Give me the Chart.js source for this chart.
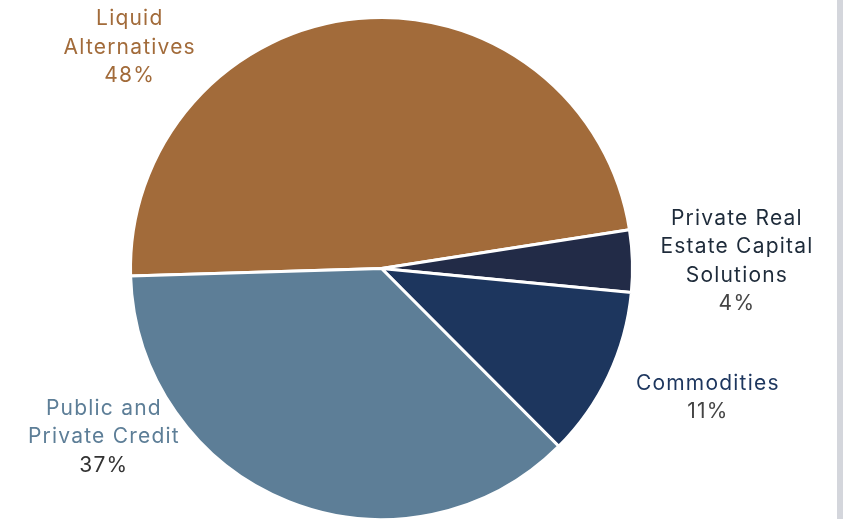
<!DOCTYPE html>
<html>
<head>
<meta charset="utf-8">
<script src="https://cdn.jsdelivr.net/npm/chart.js@4"></script>
<style>
  html, body { margin: 0; padding: 0; background: #fff; overflow: hidden; }
  #wrap { position: relative; width: 846px; height: 519px; overflow: hidden; }
  #box { position: absolute; left: 0; top: 0; width: 836px; height: 540px; }
  #rail { position: absolute; left: 837px; top: 0; width: 6px; height: 519px; background: #d4d6dc; }
</style>
</head>
<body>
<div id="wrap">
  <div id="box"><canvas id="myChart"></canvas></div>
  <div id="rail"></div>
</div>
<script>
var ctx = document.getElementById("myChart").getContext('2d');

const categories = [['Liquid', 'Alternatives'], ['Private Real', 'Estate Capital', 'Solutions'], ['Commodities'], ['Public and', 'Private Credit']];
const shares = [48, 4, 11, 37];
const sliceColors = ['#a26b3a', '#222b47', '#1d365e', '#5d7e97'];
const labelColors = ['#a26b3a', '#1e2b3a', '#1d365e', '#5d7e97'];
const pctColors = ['#a26b3a', '#444444', '#444444', '#333333'];

// label anchor (centre of first line), in units of radius from pie centre
const labelSpots = [[-1.003, -0.995], [1.416, -0.2], [1.3, 0.458], [-1.106, 0.558]];

const outsideLabels = {
  id: 'outsideLabels',
  afterDraw(chart) {
    const arc = chart.getDatasetMeta(0).data[0];
    const cx = arc.x, cy = arc.y, r = arc.outerRadius;
    const c = chart.ctx;
    c.save();
    c.font = '400 21px Inter, "Open Sans", sans-serif';
    c.letterSpacing = '1.2px';
    c.textAlign = 'center';
    c.textBaseline = 'middle';
    const lh = 28.5;
    categories.forEach((lines, i) => {
      const x = cx + labelSpots[i][0] * r;
      let y = cy + labelSpots[i][1] * r;
      c.fillStyle = labelColors[i];
      lines.forEach(t => { c.fillText(t, x, y); y += lh; });
      c.fillStyle = pctColors[i];
      c.fillText(shares[i] + '%', x, y);
    });
    c.restore();
  }
};

new Chart(ctx, {
  type: 'pie',
  data: {
    labels: categories.map(l => l.join(' ')),
    datasets: [{
      data: shares,
      backgroundColor: sliceColors,
      borderColor: '#ffffff',
      borderWidth: 3
    }]
  },
  options: {
    responsive: true,
    maintainAspectRatio: false,
    animation: false,
    rotation: 268.3,
    layout: { padding: { left: 129, top: 16, right: 202, bottom: 19 } },
    plugins: {
      legend: { display: false },
      tooltip: { enabled: false }
    }
  },
  plugins: [outsideLabels]
});
</script>
</body>
</html>
